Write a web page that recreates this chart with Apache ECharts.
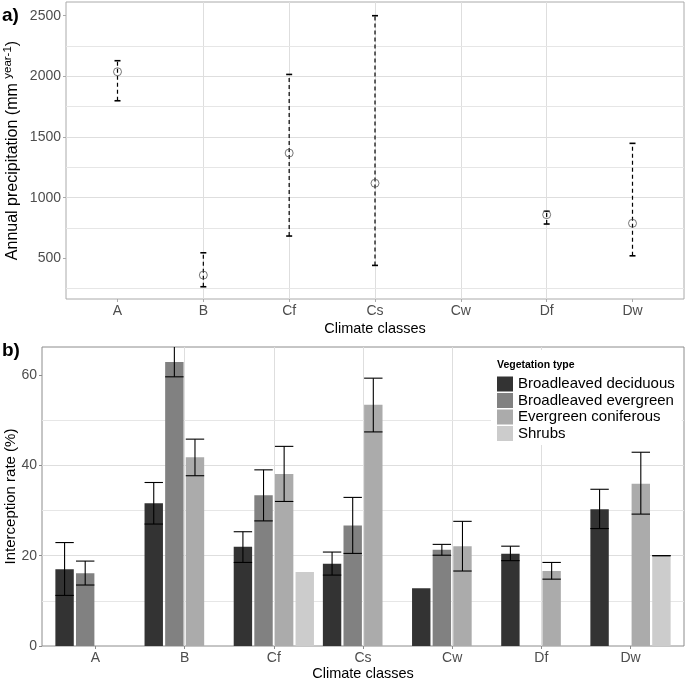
<!DOCTYPE html>
<html>
<head>
<meta charset="utf-8">
<script src="https://cdn.jsdelivr.net/npm/echarts@6/dist/echarts.min.js"></script>
<style>
  html, body { margin: 0; padding: 0; background: #fff; }
  #main { width: 685px; height: 682px; }
</style>
</head>
<body>
<div id="main"></div>
<script>
// climate classes (x axis of both panels)
var categories = ['A', 'B', 'Cf', 'Cs', 'Cw', 'Df', 'Dw'];
var categoryIdx = [0, 1, 2, 3, 4, 5, 6];

// panel a) annual precipitation, mean and range
var precipMean = [2038, 362, 1368, 1119, null, 860, 789];
var precipLow = [1799, 266, 684, 442, null, 783, 521];
var precipHigh = [2129, 546, 2016, 2500, null, 888, 1448];
var precipTicks = [500, 1000, 1500, 2000, 2500];
var precipMinor = [250, 750, 1250, 1750, 2250];

// panel b) interception rate by vegetation type
var vegTypes = ['Broadleaved deciduous', 'Broadleaved evergreen', 'Evergreen coniferous', 'Shrubs'];
var deciduous = [17.0, 31.6, 22.0, 18.2, 12.8, 20.4, 30.3];
var deciduousLow = [11.2, 27.0, 18.5, 15.7, null, 18.9, 26.0];
var deciduousHigh = [22.9, 36.2, 25.3, 20.8, null, 22.1, 34.7];
var evergreen = [16.1, 62.9, 33.4, 26.7, 21.3, null, null];
var evergreenLow = [13.5, 59.6, 27.7, 20.5, 20.1, null, null];
var evergreenHigh = [18.8, 66.4, 39.0, 32.9, 22.5, null, null];
var coniferous = [null, 41.8, 38.1, 53.4, 22.1, 16.6, 35.9];
var coniferousLow = [null, 37.7, 32.0, 47.4, 16.6, 14.8, 29.2];
var coniferousHigh = [null, 45.8, 44.2, 59.3, 27.6, 18.5, 42.9];
var shrubs = [null, null, 16.4, null, null, null, 20.0];
var shrubsLow = [null, null, null, null, null, null, 20.0];
var shrubsHigh = [null, null, null, null, null, null, 20.0];
var rateTicks = [0, 20, 40, 60];
var rateMinor = [10, 30, 50];

var vegColors = ['#333333', '#818181', '#ababab', '#cccccc'];
var FONT = '"Liberation Sans", Arial, sans-serif';
var CAT_GAP = 0.1, BAR_GAP = 0.12;

var chart = echarts.init(document.getElementById('main'), null, { renderer: 'canvas' });

function pairs(arr) {
  var out = [];
  arr.forEach(function (v, i) {
    if (v != null) out.push([i, v]);
  });
  return out;
}

// error bar rows for panel a)
var precipBars = [];
precipMean.forEach(function (v, i) {
  if (v != null) precipBars.push([i, precipLow[i], precipHigh[i]]);
});

// error bar rows for panel b): [x, low, high, slot]
var rateBars = [];
[[deciduousLow, deciduousHigh], [evergreenLow, evergreenHigh],
 [coniferousLow, coniferousHigh], [shrubsLow, shrubsHigh]].forEach(function (g, k) {
  g[0].forEach(function (lo, i) {
    if (lo != null) rateBars.push([i, lo, g[1][i], k]);
  });
});

function xAxisFor(grid, border) {
  return {
    type: 'value', gridIndex: grid, min: -0.6, max: 6.6,
    minInterval: 1, maxInterval: 1,
    name: 'Climate classes', nameLocation: 'middle', nameGap: grid === 0 ? 22 : 20,
    nameMoveOverlap: false,
    nameTextStyle: { fontSize: 14.5, color: '#000', fontFamily: FONT },
    axisLine: { show: false, onZero: false },
    axisTick: { show: true, length: 3, customValues: categoryIdx, lineStyle: { color: border } },
    axisLabel: {
      customValues: categoryIdx, margin: 5, fontSize: 14, color: '#4d4d4d', fontFamily: FONT,
      formatter: function (v) { return categories[Math.round(v)]; }
    },
    splitLine: { show: true, showMinLine: false, showMaxLine: false, lineStyle: { color: '#dedede', width: 1 } }
  };
}

var series = [];

// panel a) dashed ranges
series.push({
  type: 'custom', xAxisIndex: 0, yAxisIndex: 0, z: 3,
  data: precipBars,
  encode: { x: 0, y: [1, 2] },
  renderItem: function (params, api) {
    var x = api.value(0);
    var lo = api.coord([x, api.value(1)]);
    var hi = api.coord([x, api.value(2)]);
    var cap = 3;
    return {
      type: 'group',
      children: [
        { type: 'line', shape: { x1: lo[0], y1: lo[1], x2: hi[0], y2: hi[1] },
          style: { stroke: '#000', lineWidth: 1.2, lineDash: [4, 3] } },
        { type: 'line', shape: { x1: lo[0] - cap, y1: lo[1], x2: lo[0] + cap, y2: lo[1] },
          style: { stroke: '#000', lineWidth: 1.6 } },
        { type: 'line', shape: { x1: hi[0] - cap, y1: hi[1], x2: hi[0] + cap, y2: hi[1] },
          style: { stroke: '#000', lineWidth: 1.6 } }
      ]
    };
  }
});

// panel a) mean points + minor grid lines
series.push({
  type: 'scatter', xAxisIndex: 0, yAxisIndex: 0, z: 4,
  data: pairs(precipMean),
  symbol: 'circle', symbolSize: 8,
  itemStyle: { color: 'rgba(0,0,0,0)', borderColor: '#555', borderWidth: 1 },
  markLine: {
    silent: true, z: 1, symbol: ['none', 'none'], label: { show: false },
    lineStyle: { color: '#e6e6e6', width: 1, type: 'solid' },
    data: precipMinor.map(function (v) { return { yAxis: v }; })
  }
});

// panel b) bars
[deciduous, evergreen, coniferous, shrubs].forEach(function (arr, k) {
  var s = {
    type: 'bar', name: vegTypes[k], xAxisIndex: 1, yAxisIndex: 1, z: 2,
    data: pairs(arr),
    barCategoryGap: (CAT_GAP * 100) + '%', barGap: (BAR_GAP * 100) + '%',
    itemStyle: { color: vegColors[k] }
  };
  if (k === 0) {
    s.markLine = {
      silent: true, z: 1, symbol: ['none', 'none'], label: { show: false },
      lineStyle: { color: '#e6e6e6', width: 1, type: 'solid' },
      data: rateMinor.map(function (v) { return { yAxis: v }; })
    };
  }
  series.push(s);
});

// panel b) error bars, placed on the dodged bar slots
series.push({
  type: 'custom', xAxisIndex: 1, yAxisIndex: 1, z: 5, clip: true,
  data: rateBars,
  encode: { x: 0, y: [1, 2] },
  renderItem: function (params, api) {
    var x = api.value(0), k = api.value(3);
    var band = api.size([1, 0])[0];
    var usable = band * (1 - CAT_GAP);
    var bw = usable / (4 + 3 * BAR_GAP);
    var cx = api.coord([x, 0])[0] - usable / 2 + k * bw * (1 + BAR_GAP) + bw / 2;
    var yLo = api.coord([x, api.value(1)])[1];
    var yHi = api.coord([x, api.value(2)])[1];
    var st = { stroke: '#000', lineWidth: 1.1 };
    return {
      type: 'group',
      children: [
        { type: 'line', shape: { x1: cx, y1: yLo, x2: cx, y2: yHi }, style: st },
        { type: 'line', shape: { x1: cx - bw / 2, y1: yLo, x2: cx + bw / 2, y2: yLo }, style: st },
        { type: 'line', shape: { x1: cx - bw / 2, y1: yHi, x2: cx + bw / 2, y2: yHi }, style: st }
      ]
    };
  }
});

var option = {
  animation: false,
  backgroundColor: '#fff',
  textStyle: { fontFamily: FONT },
  grid: [
    { left: 66, right: 1, top: 2, height: 297, show: true, borderColor: '#aaaaaa', borderWidth: 1,
      backgroundColor: 'transparent', containLabel: false, outerBoundsMode: 'none' },
    { left: 42, right: 1, top: 347, height: 299, show: true, borderColor: '#8c8c8c', borderWidth: 1,
      backgroundColor: 'transparent', containLabel: false, outerBoundsMode: 'none' }
  ],
  xAxis: [xAxisFor(0, '#aaaaaa'), xAxisFor(1, '#8c8c8c')],
  yAxis: [
    {
      type: 'value', gridIndex: 0, min: 165, max: 2613,
      minInterval: 500, maxInterval: 500,
      name: '{n|Annual precipitation (mm }{s|year-1}{n|)}',
      nameLocation: 'middle', nameGap: 45, nameMoveOverlap: false,
      nameTextStyle: {
        rich: {
          n: { fontSize: 16, color: '#000', fontFamily: FONT, lineHeight: 19, verticalAlign: 'bottom' },
          s: { fontSize: 11.5, color: '#000', fontFamily: FONT, verticalAlign: 'top' }
        }
      },
      axisLine: { show: false, onZero: false },
      axisTick: { show: true, length: 3, customValues: precipTicks, lineStyle: { color: '#aaaaaa' } },
      axisLabel: { customValues: precipTicks, margin: 5, fontSize: 14, color: '#4d4d4d', fontFamily: FONT,
        formatter: function (v) { return String(v); } },
      splitLine: { show: true, showMinLine: false, showMaxLine: false, lineStyle: { color: '#dedede', width: 1 } }
    },
    {
      type: 'value', gridIndex: 1, min: 0, max: 66.2, interval: 20,
      name: 'Interception rate (%)', nameLocation: 'middle', nameGap: 24, nameMoveOverlap: false,
      nameTextStyle: { fontSize: 15, color: '#000', fontFamily: FONT },
      axisLine: { show: false, onZero: false },
      axisTick: { show: true, length: 3, customValues: rateTicks, lineStyle: { color: '#8c8c8c' } },
      axisLabel: { customValues: rateTicks, margin: 5, fontSize: 14, color: '#4d4d4d', fontFamily: FONT,
        formatter: function (v) { return String(v); } },
      splitLine: { show: true, showMinLine: false, showMaxLine: false, lineStyle: { color: '#dedede', width: 1 } }
    }
  ],
  legend: {
    data: vegTypes, orient: 'vertical', left: 491, top: 350,
    padding: [26.5, 7, 4, 6], backgroundColor: '#fff',
    itemWidth: 16, itemHeight: 15, itemGap: 1.5, icon: 'rect',
    selectedMode: false, z: 6,
    textStyle: { fontSize: 15, color: '#000', lineHeight: 15, fontFamily: FONT }
  },
  graphic: [
    { type: 'text', left: 2, top: 6, z: 10, style: { text: 'a)', fill: '#000', font: 'bold 19px ' + FONT } },
    { type: 'text', left: 2, top: 341, z: 10, style: { text: 'b)', fill: '#000', font: 'bold 19px ' + FONT } },
    { type: 'text', left: 497, top: 360, z: 10, style: { text: 'Vegetation type', fill: '#000', font: 'bold 10.5px ' + FONT } }
  ],
  series: series
};

chart.setOption(option);
</script>
</body>
</html>
